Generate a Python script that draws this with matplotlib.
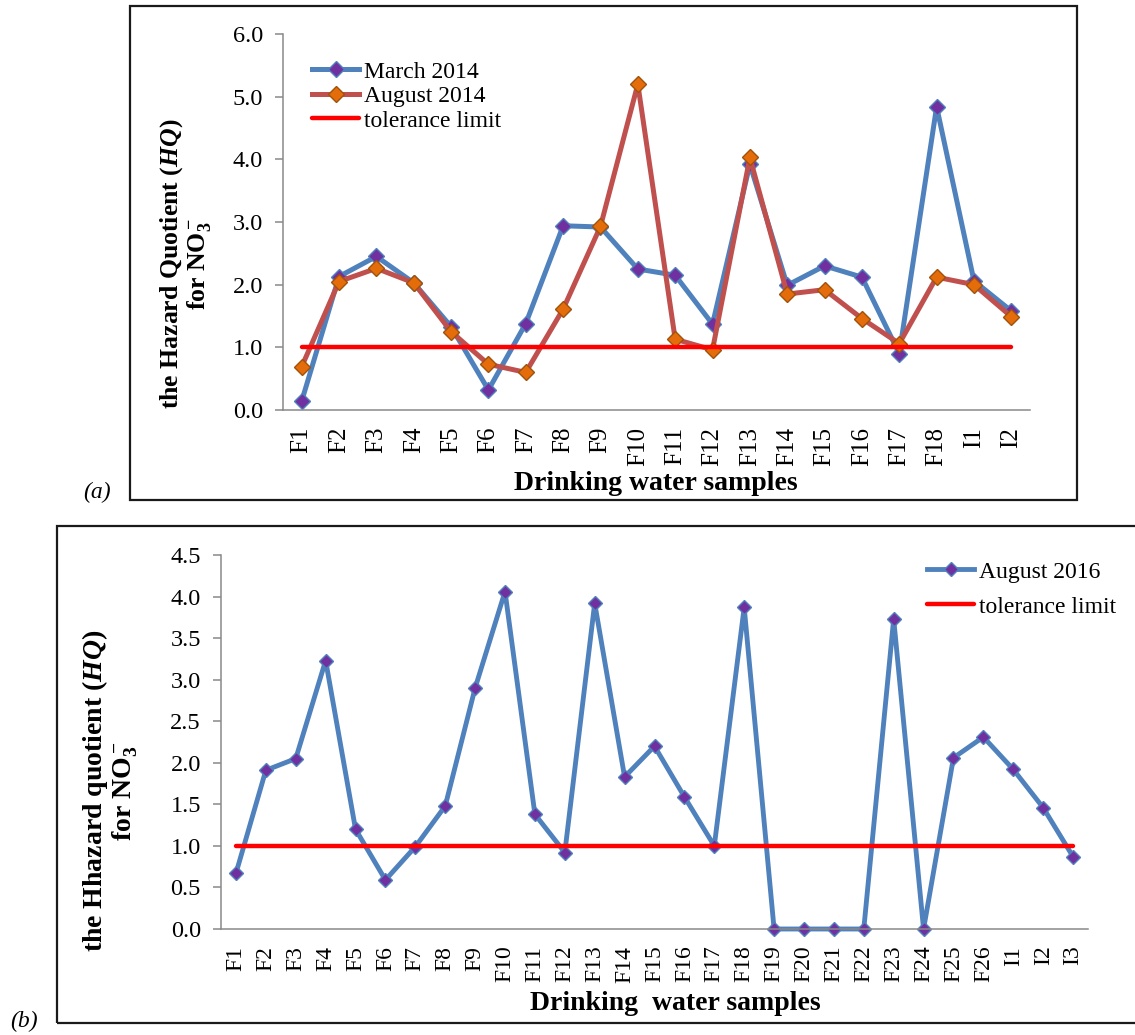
import numpy as np
import matplotlib
matplotlib.use('Agg')
import matplotlib.pyplot as plt
from matplotlib.patches import Rectangle

plt.rcParams['font.family'] = 'Liberation Serif'
plt.rcParams['mathtext.fontset'] = 'custom'
plt.rcParams['mathtext.rm'] = 'Liberation Serif:bold'
plt.rcParams['mathtext.it'] = 'Liberation Serif:italic:bold'
plt.rcParams['mathtext.bf'] = 'Liberation Serif:bold'

# (a) sampling campaigns of 2014
samples_a = ['F1', 'F2', 'F3', 'F4', 'F5', 'F6', 'F7', 'F8', 'F9', 'F10',
             'F11', 'F12', 'F13', 'F14', 'F15', 'F16', 'F17', 'F18', 'I1', 'I2']
hq_march_2014 = [0.14, 2.13, 2.45, 2.03, 1.33, 0.32, 1.38, 2.94, 2.92, 2.25,
                 2.15, 1.37, 3.92, 1.99, 2.30, 2.12, 0.90, 4.84, 2.06, 1.58]
hq_august_2014 = [0.69, 2.05, 2.26, 2.03, 1.25, 0.73, 0.60, 1.61, 2.93, 5.20,
                  1.13, 0.96, 4.03, 1.85, 1.92, 1.46, 1.06, 2.12, 2.00, 1.49]

# (b) sampling campaign of 2016
samples_b = ['F1', 'F2', 'F3', 'F4', 'F5', 'F6', 'F7', 'F8', 'F9', 'F10',
             'F11', 'F12', 'F13', 'F14', 'F15', 'F16', 'F17', 'F18', 'F19', 'F20',
             'F21', 'F22', 'F23', 'F24', 'F25', 'F26', 'I1', 'I2', 'I3']
hq_august_2016 = [0.67, 1.91, 2.05, 3.23, 1.20, 0.59, 0.99, 1.48, 2.90, 4.06,
                  1.38, 0.92, 3.92, 1.83, 2.20, 1.59, 1.00, 3.87, 0.0, 0.0,
                  0.0, 0.0, 3.73, 0.0, 2.06, 2.31, 1.92, 1.46, 0.87]

tolerance = 1.0

BLUE = '#4F81BD'
BROWN = '#C0504D'
PURPLE = '#7030A0'
ORANGE = '#E46C0A'
RED = '#FF0000'
GREY = '#898989'

W, H = 1135, 1035
fig = plt.figure(figsize=(W / 100, H / 100), dpi=100)


def fx(x):
    return x / W


def fy(y):
    return 1 - y / H


def frame(x0, y0, x1, y1):
    fig.patches.append(Rectangle((fx(x0), fy(y1)), (x1 - x0) / W, (y1 - y0) / H,
                                 transform=fig.transFigure, fill=False,
                                 lw=1.6, ec='#1a1a1a'))


def make_axes(x0, y0, x1, y1, labels, ymax, ystep, xfs):
    ax = fig.add_axes([fx(x0), fy(y1), (x1 - x0) / W, (y1 - y0) / H])
    n = len(labels)
    ax.set_xlim(-0.5, n - 0.5)
    ax.set_ylim(0, ymax)
    yt = np.arange(0, ymax + ystep / 2, ystep)
    ax.set_yticks(yt)
    ax.set_yticklabels(['%.1f' % v for v in yt], fontsize=17.5)
    ax.set_xticks(np.arange(n))
    ax.set_xticklabels(labels, rotation=90, fontsize=xfs, va='top')
    for s in ['top', 'right']:
        ax.spines[s].set_visible(False)
    for s in ['left', 'bottom']:
        ax.spines[s].set_color(GREY)
        ax.spines[s].set_linewidth(1.1)
    ax.tick_params(axis='y', length=5.5, width=1.1, color=GREY, pad=9)
    ax.tick_params(axis='x', length=0, pad=12)
    ax.patch.set_alpha(0)
    return ax


# ---- panel (a)
frame(130, 6, 1077, 500)
ax1 = make_axes(283, 34, 1030, 410, samples_a, 6.0, 1.0, 18)
xa = np.arange(len(samples_a))
ax1.plot(xa, hq_march_2014, color=BLUE, lw=3.6, marker='D', ms=8,
         mfc=PURPLE, mec=BLUE, mew=1, label='March 2014')
ax1.plot(xa, hq_august_2014, color=BROWN, lw=3.6, marker='D', ms=8,
         mfc=ORANGE, mec='#A0520A', mew=1, label='August 2014')
ax1.plot(xa, [tolerance] * len(xa), color=RED, lw=3.2,
         solid_capstyle='round', label='tolerance limit')
ax1.legend(loc='upper left', bbox_to_anchor=(fx(312), fy(61)),
           bbox_transform=fig.transFigure, frameon=False, fontsize=17,
           handlelength=2.0, handletextpad=0.2, labelspacing=0.13,
           borderpad=0, borderaxespad=0)
fig.text(fx(186), fy(264), 'the Hazard Quotient ($HQ$)\nfor $\\mathregular{NO_3^-}$',
         rotation=90, ha='center', va='center', multialignment='center',
         fontsize=18.5, fontweight='bold', linespacing=1.0)
fig.text(fx(656), fy(483), 'Drinking water samples', ha='center', va='center',
         fontsize=20, fontweight='bold')
fig.text(fx(97), fy(492), '(a)', ha='center', va='center', fontsize=17,
         style='italic')

# ---- panel (b)
frame(57, 526, 1140, 1023)
ax2 = make_axes(221, 555, 1088, 929, samples_b, 4.5, 0.5, 17)
xb = np.arange(len(samples_b))
ax2.plot(xb, hq_august_2016, color=BLUE, lw=3.5, marker='D', ms=7.5,
         mfc=PURPLE, mec=BLUE, mew=1, label='August 2016', clip_on=False)
ax2.plot(xb, [tolerance] * len(xb), color=RED, lw=3.2,
         solid_capstyle='round', label='tolerance limit')
ax2.legend(loc='upper left', bbox_to_anchor=(fx(927), fy(561)),
           bbox_transform=fig.transFigure, frameon=False, fontsize=17,
           handlelength=2.0, handletextpad=0.2, labelspacing=0.58,
           borderpad=0, borderaxespad=0)
fig.text(fx(110), fy(791), 'the Hhazard quotient ($HQ$)\nfor $\\mathregular{NO_3^-}$',
         rotation=90, ha='center', va='center', multialignment='center',
         fontsize=20, fontweight='bold', linespacing=1.0)
fig.text(fx(675), fy(1004), 'Drinking  water samples', ha='center', va='center',
         fontsize=20, fontweight='bold')
fig.text(fx(24), fy(1021), '(b)', ha='center', va='center', fontsize=17,
         style='italic')

fig.savefig('out.png', dpi=100)
